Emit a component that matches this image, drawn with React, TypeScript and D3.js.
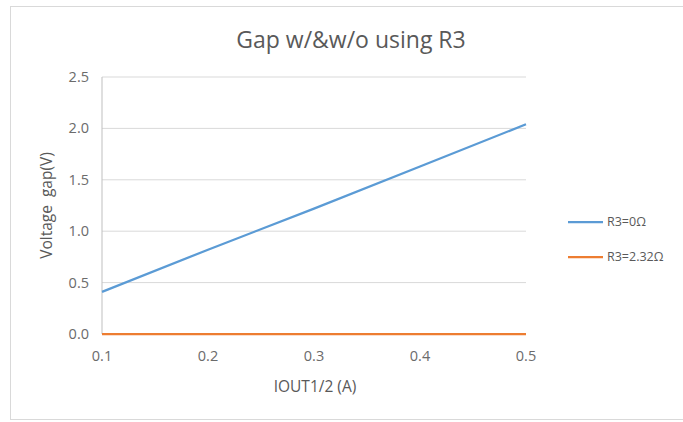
import React from 'react';
import * as d3 from 'd3';

const currents = [0.1, 0.2, 0.3, 0.4, 0.5];
const gapR3Zero = [0.41, 0.82, 1.22, 1.63, 2.04];
const gapR3Used = [0, 0, 0, 0, 0];
const yTicks = [0, 0.5, 1.0, 1.5, 2.0, 2.5];
const xTicks = [0.1, 0.2, 0.3, 0.4, 0.5];

const seriesList = [
    { name: 'R3=0Ω', values: gapR3Zero, color: '#5B9BD5' },
    { name: 'R3=2.32Ω', values: gapR3Used, color: '#ED7D31' },
];

const W = 683;
const H = 422;
const FONT = "'Open Sans', 'Liberation Sans', sans-serif";
const TEXT = '#595959';

export default function App() {
    const x = d3.scaleLinear().domain([0.1, 0.5]).range([102, 526]);
    const y = d3.scaleLinear().domain([0, 2.5]).range([334, 77]);

    const line = d3.line<number>()
        .x((_, i) => x(currents[i]))
        .y((d) => y(d));

    return (
        <div style={{ position: 'fixed', left: 0, top: 0 }}>
            <svg width={W} height={H} style={{ display: 'block', background: '#fff' }}>
                {/* chart frame */}
                <rect x={10.5} y={6.5} width={W} height={413} fill="#fff" stroke="#D9D9D9" strokeWidth={1} />

                <text x={351} y={48} textAnchor="middle" fontFamily={FONT} fontSize={23} fill={TEXT}>
                    Gap w/&amp;w/o using R3
                </text>

                {/* gridlines */}
                {yTicks.map((t) => (
                    <line key={t} x1={x(0.1)} x2={x(0.5)} y1={y(t)} y2={y(t)}
                        stroke={t === 0 ? '#BFBFBF' : '#D9D9D9'} strokeWidth={1} />
                ))}
                <line x1={x(0.1)} x2={x(0.1)} y1={y(0)} y2={y(2.5)} stroke="#BFBFBF" strokeWidth={1} />

                {/* y tick labels */}
                {yTicks.map((t) => (
                    <text key={t} x={89} y={y(t)} dy="0.35em" textAnchor="end"
                        fontFamily={FONT} fontSize={14.5} fill="#6b6b6b">
                        {t.toFixed(1)}
                    </text>
                ))}

                {/* x tick labels */}
                {xTicks.map((t) => (
                    <text key={t} x={x(t)} y={361} textAnchor="middle"
                        fontFamily={FONT} fontSize={14.5} fill="#6b6b6b">
                        {t.toFixed(1)}
                    </text>
                ))}

                <text x={315} y={392} textAnchor="middle" fontFamily={FONT} fontSize={15.5} fill={TEXT}>
                    IOUT1/2 (A)
                </text>
                <text transform={`translate(52, ${y(1.25)}) rotate(-90)`} textAnchor="middle"
                    fontFamily={FONT} fontSize={15.5} fill={TEXT} style={{ whiteSpace: 'pre' }}>
                    Voltage  gap(V)
                </text>

                {/* series */}
                {seriesList.map((s) => (
                    <path key={s.name} d={line(s.values) ?? ''} fill="none" stroke={s.color} strokeWidth={2.25} />
                ))}

                {/* legend */}
                {seriesList.map((s, i) => (
                    <g key={s.name} transform={`translate(568, ${222 + i * 35})`}>
                        <line x1={0} x2={35} y1={0} y2={0} stroke={s.color} strokeWidth={2.25} />
                        <text x={39} y={0} dy="0.35em" fontFamily={FONT} fontSize={12.5} fill={TEXT}>
                            {s.name}
                        </text>
                    </g>
                ))}
            </svg>
        </div>
    );
}
